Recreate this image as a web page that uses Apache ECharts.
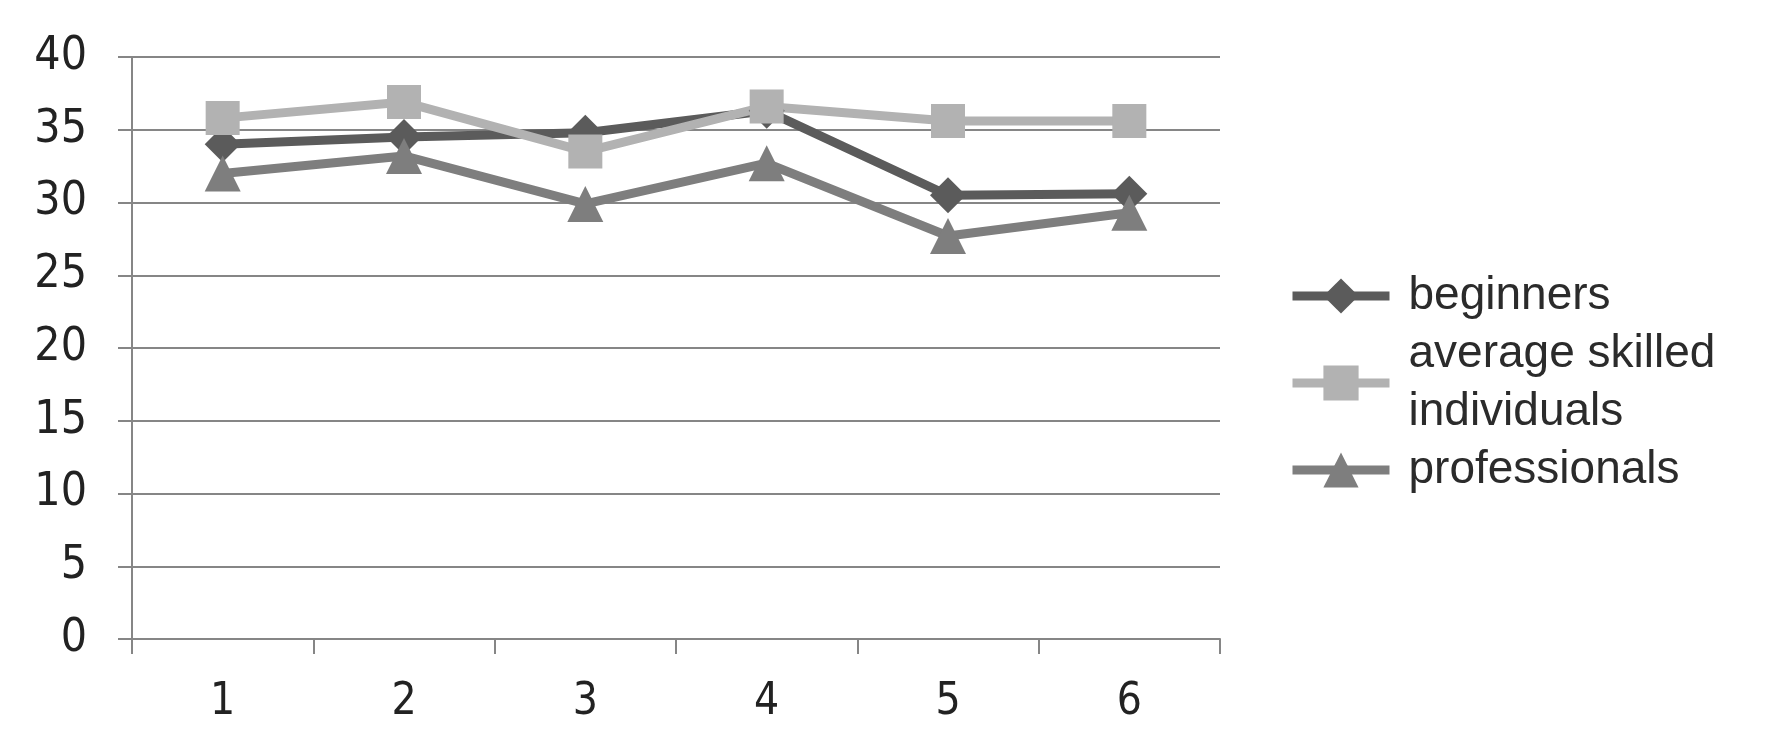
<!DOCTYPE html>
<html><head><meta charset="utf-8">
<script src="https://cdn.jsdelivr.net/npm/echarts@6/dist/echarts.min.js"></script>
<style>html,body{margin:0;padding:0;background:#fff}#c{width:1780px;height:755px}</style>
</head><body><div id="c"></div>
<script>
const categories = ['1','2','3','4','5','6'];
const beginners = [34.0, 34.5, 34.8, 36.3, 30.5, 30.6];
const averageSkilled = [35.8, 36.9, 33.5, 36.6, 35.6, 35.6];
const professionals = [32.0, 33.2, 29.9, 32.7, 27.7, 29.3];
const seriesNames = ['beginners', 'average skilled\nindividuals', 'professionals'];

const axisFont = '"Liberation Sans Narrow", "DejaVu Sans Condensed", "Liberation Sans", Arial, sans-serif';
const chart = echarts.init(document.getElementById('c'), null, {renderer: 'canvas'});
function mk(name, data, color, symbol, size) {
  return {
    name, type: 'line', data, symbol, symbolSize: size,
    lineStyle: {color, width: 9},
    itemStyle: {color},
    emphasis: {disabled: true},
    animation: false
  };
}
chart.setOption({
  animation: false,
  grid: {left: 132, right: 560, top: 57, bottom: 116},
  legend: {
    orient: 'vertical', left: 1283, top: 262,
    itemWidth: 97, itemHeight: 44, itemGap: 0,
    lineStyle: {width: 9},
    textStyle: {fontFamily: '"Liberation Sans", Arial, sans-serif', fontSize: 46, color: '#2b2b2b', lineHeight: 58, padding: [0,0,0,14]},
    data: seriesNames
  },
  xAxis: {
    type: 'category', data: categories, boundaryGap: true,
    axisLine: {lineStyle: {color: '#868686', width: 2}},
    axisTick: {show: true, alignWithLabel: false, length: 15, lineStyle: {color: '#868686', width: 2}},
    axisLabel: {fontFamily: axisFont, fontSize: 44, color: '#222', margin: 42}
  },
  yAxis: {
    type: 'value', min: 0, max: 40, interval: 5,
    axisLine: {show: true, lineStyle: {color: '#868686', width: 2}},
    axisTick: {show: true, inside: false, length: 14, lineStyle: {color: '#868686', width: 2}},
    splitLine: {lineStyle: {color: '#868686', width: 2}},
    axisLabel: {fontFamily: axisFont, fontSize: 46, color: '#222', margin: 45}
  },
  series: [
    mk(seriesNames[0], beginners, '#5b5b5b', 'diamond', 36),
    mk(seriesNames[1], averageSkilled, '#b2b2b2', 'rect', 34),
    mk(seriesNames[2], professionals, '#7e7e7e', 'triangle', 36)
  ]
});
</script></body></html>
